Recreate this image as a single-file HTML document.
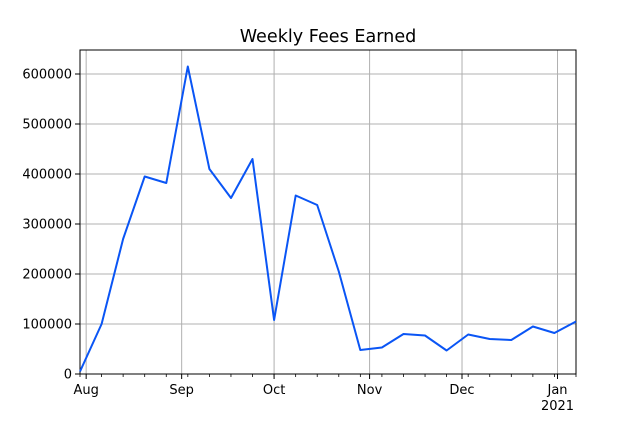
<!DOCTYPE html>
<html><head><meta charset="utf-8">
<style>
html,body{margin:0;padding:0;background:#fff;}
svg{display:block;font-family:"DejaVu Sans","Liberation Sans",sans-serif;}
</style></head>
<body>
<svg id="chart" width="640" height="427" viewBox="0 0 640 427">
<text x="328" y="42" text-anchor="middle" font-size="17.6" fill="#000">Weekly Fees Earned</text>
<g id="grid"></g>
<g id="axes"></g>
<g id="series"></g>
</svg>
<script>
const startDate = "2020-07-30";
const weeklyFees = [5000,100000,270000,395000,382000,615000,410000,352000,430000,108000,357000,338000,205000,48000,53000,80000,77000,47000,79000,70000,68000,95000,82000,105000];
const yTicks = [0,100000,200000,300000,400000,500000,600000];
const monthTicks = ["2020-08-01","2020-09-01","2020-10-01","2020-11-01","2020-12-01","2021-01-01"];
const monthLabels = ["Aug","Sep","Oct","Nov","Dec","Jan"];

const NS="http://www.w3.org/2000/svg";
const L=80,R=576,T=50,B=374;
const day=86400000;
const t0=Date.parse(startDate);
const tEnd=t0+(weeklyFees.length-1)*7*day;
const x=t=>L+(t-t0)/(tEnd-t0)*(R-L);
const y=v=>B-v/600000*(B-74);
function mk(tag,attrs,parent){const e=document.createElementNS(NS,tag);for(const k in attrs)e.setAttribute(k,attrs[k]);parent.appendChild(e);return e;}
const grid=document.getElementById('grid'),axes=document.getElementById('axes'),series=document.getElementById('series');

yTicks.forEach(v=>{
  const g=mk('line',{x1:L,x2:R,y1:y(v),y2:y(v),stroke:'#b0b0b0','stroke-width':1},grid);
  
  
  mk('line',{x1:L-5,x2:L,y1:y(v),y2:y(v),stroke:'#000','stroke-width':1},axes);
  const t=mk('text',{x:L-8,y:y(v)+4.5,'text-anchor':'end','font-size':13},axes);
  t.textContent=v;
  
  
});
monthTicks.forEach((d,i)=>{
  const xx=x(Date.parse(d));
  const g=mk('line',{x1:xx,x2:xx,y1:T,y2:B,stroke:'#b0b0b0','stroke-width':1},grid);
  
  
  mk('line',{x1:xx,x2:xx,y1:B,y2:B+5,stroke:'#000','stroke-width':1},axes);
  const t=mk('text',{x:xx,y:B+20,'text-anchor':'middle','font-size':13},axes);
  t.textContent=monthLabels[i];
  
  
});
const yr=mk('text',{x:x(Date.parse(monthTicks[5])),y:B+36,'text-anchor':'middle','font-size':13},axes);
yr.textContent="2021";


weeklyFees.forEach((v,i)=>{
  const xx=x(t0+i*7*day);
  mk('line',{x1:xx,x2:xx,y1:B,y2:B+3,stroke:'#000','stroke-width':0.8},axes);
});
const frame=mk('rect',{x:L,y:T,width:R-L,height:B-T,fill:'none',stroke:'#000','stroke-width':1},axes);


const pts=weeklyFees.map((v,i)=>x(t0+i*7*day).toFixed(1)+','+y(v).toFixed(1)).join(' ');
const line=mk('polyline',{points:pts,fill:'none',stroke:'#0a55f5','stroke-width':2,'stroke-linejoin':'round'},series);


</script>
</body></html>
